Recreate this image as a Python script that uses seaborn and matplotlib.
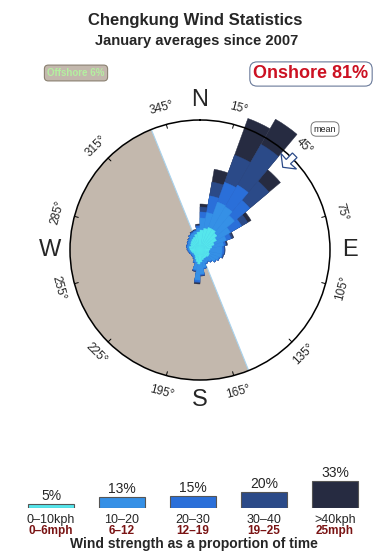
import numpy as np
import pandas as pd
import matplotlib
matplotlib.use("Agg")
import matplotlib.pyplot as plt
import seaborn as sns

# ---------------- data ----------------
dirs = list(range(5, 360, 10))  # bin centres (deg), 10-degree bins
# cumulative radii (circle = 130) for each speed class, per direction
r_0_10 = [20, 22, 24, 24, 22, 19, 15, 12, 10, 9, 9, 10, 10, 9, 9, 9, 10, 12,
          14, 12, 10, 8, 7, 7, 7, 8, 9, 10, 11, 10, 11, 12, 13, 14, 16, 18]
r_10_20 = [32, 38, 51, 50, 45, 35, 28, 24, 22, 22, 22, 20, 18, 15, 13, 14, 18, 24,
           30, 20, 13, 10, 9, 9, 9, 10, 11, 12, 13, 13, 14, 15, 17, 18, 19, 22]
r_20_30 = [38, 55, 72, 75, 65, 48, 33, 26, 24, 24, 23, 21, 19, 16, 14, 15, 19, 25,
           32, 21, 14, 11, 10, 10, 10, 11, 12, 13, 14, 14, 15, 16, 18, 19, 20, 24]
r_30_40 = [43, 69, 101, 122, 90, 55, 35, 27, 25, 25, 24, 21, 19, 16, 14, 15, 19, 26,
           33, 22, 14, 11, 10, 10, 10, 11, 12, 13, 14, 14, 15, 16, 18, 20, 20, 25]
r_40 = [46, 82, 140, 151, 105, 59, 36, 28, 25, 25, 24, 21, 19, 16, 14, 15, 19, 26,
        34, 22, 14, 11, 10, 10, 10, 11, 12, 13, 14, 14, 15, 16, 18, 20, 21, 26]

speed_kph = ["0\u201310kph", "10\u201320", "20\u201330", "30\u201340", ">40kph"]
speed_mph = ["0\u20136mph", "6\u201312", "12\u201319", "19\u201325", "25mph"]
speed_pct = [5, 13, 15, 20, 33]
colors = ["#55e6ec", "#3590e6", "#2a6fd9", "#2b4a88", "#262b41"]

offshore_start, offshore_end = 158, 338
mean_dir = 45
deg_labels = [15, 45, 75, 105, 135, 165, 195, 225, 255, 285, 315, 345]
compass = {"N": 0, "E": 90, "S": 180, "W": 270}

# ---------------- figure ----------------
sns.set_style("white")
plt.rcParams["font.family"] = ["Liberation Sans", "DejaVu Sans"]

W, H = 390, 560
fig = plt.figure(figsize=(W / 100, H / 100), dpi=100)


def fx(x):
    return x / W


def fy(y):
    return 1 - y / H


fig.text(fx(195), fy(20), "Chengkung Wind Statistics", ha="center", va="center",
         fontsize=12, fontweight="bold")
fig.text(fx(197), fy(41), "January averages since 2007", ha="center", va="center",
         fontsize=10.6, fontweight="bold")

# polar rose
R = 130
cx, cy = 200, 250
ax = fig.add_axes([fx(cx - R), fy(cy + R), 2 * R / W, 2 * R / H], projection="polar")
ax.set_theta_zero_location("N")
ax.set_theta_direction(-1)
ax.set_ylim(0, R)
ax.grid(False)
ax.set_xticks([])
ax.set_yticks([])
ax.spines["polar"].set_color("black")
ax.spines["polar"].set_linewidth(1.1)
ax.spines["polar"].set_zorder(4)

# offshore wedge
th = np.radians(np.linspace(offshore_start, offshore_end, 200))
ax.fill(np.concatenate([[0], th, [0]]), np.concatenate([[0], np.full(th.size, R), [0]]),
        color="#c3b8ad", zorder=1, lw=0)
ax.plot(np.radians([offshore_start, offshore_start]), [0, R], color="#a9d3ee", lw=0.8, zorder=1.5)
ax.plot(np.radians([offshore_end, offshore_end]), [0, R], color="#a9d3ee", lw=0.8, zorder=1.5)

layers = [r_0_10, r_10_20, r_20_30, r_30_40, r_40]
theta = np.radians(dirs)
width = np.radians(10)
for i in range(len(layers) - 1, -1, -1):
    ax.bar(theta, layers[i], width=width, bottom=0, color=colors[i], edgecolor=colors[i],
           linewidth=0.3, zorder=3 - 0.1 * i, clip_on=False)

# tick marks and degree labels
for d in deg_labels:
    t = np.radians(d)
    ax.plot([t, t], [R - 4, R], color="black", lw=0.7, zorder=5, clip_on=False)
    if d < 90:
        rot = -d
    elif d > 270:
        rot = 360 - d
    else:
        rot = 180 - d
    ax.text(t, 147, f"{d}\u00b0", ha="center", va="center", fontsize=8.5,
            rotation=rot, rotation_mode="anchor", clip_on=False)

for lab, d in compass.items():
    ax.text(np.radians(d), 150, lab, ha="center", va="center", fontsize=17, clip_on=False)

# mean arrow
arr_t = np.radians(np.array([mean_dir, mean_dir - 5, mean_dir - 1.4, mean_dir - 1.4,
                             mean_dir + 1.4, mean_dir + 1.4, mean_dir + 5, mean_dir]))
arr_r = np.array([117, 126, 125, 134, 134, 125, 126, 117])
ax.fill(arr_t, arr_r, facecolor="white", edgecolor="#2b4a88", lw=0.9, zorder=6, clip_on=False)

fig.text(fx(325), fy(129), "mean", ha="center", va="center", fontsize=6.5,
         bbox=dict(boxstyle="round,pad=0.3,rounding_size=0.6", fc="white", ec="#777777", lw=0.7))

# offshore / onshore boxes
fig.text(fx(76), fy(73), "Offshore 6%", ha="center", va="center", fontsize=7,
         fontweight="bold", color="#b4f0a0",
         bbox=dict(boxstyle="round,pad=0.3,rounding_size=0.4", fc="#c3b8ad", ec="#8a8070", lw=0.8))
fig.text(fx(311), fy(74), "Onshore 81%", ha="center", va="center", fontsize=13,
         fontweight="bold", color="#cc1122",
         bbox=dict(boxstyle="round,pad=0.2,rounding_size=0.4", fc="white", ec="#6a7a9a", lw=0.8))

# legend bars with seaborn
leg = pd.DataFrame({"cls": speed_kph, "pct": speed_pct})
x0, dx = 51, 71.0
bottom_px = 508
scale = 0.81  # px per percent
lax = fig.add_axes([fx(x0 - dx / 2), fy(bottom_px), 5 * dx / W, 40 * scale / H])
sns.barplot(data=leg, x="cls", y="pct", hue="cls", palette=colors, legend=False,
            width=0.64, edgecolor="#555555", linewidth=0.8, ax=lax, saturation=1)
lax.set_ylim(0, 40)
lax.set_xlim(-0.5, 4.5)
lax.axis("off")
for i, p in enumerate(speed_pct):
    lax.text(i, p + 1.5, f"{p}%", ha="center", va="bottom", fontsize=10)
    fig.text(fx(x0 + dx * i), fy(520), speed_kph[i], ha="center", va="center", fontsize=9)
    fig.text(fx(x0 + dx * i), fy(531), speed_mph[i], ha="center", va="center", fontsize=8.5,
             fontweight="bold", color="#7a1414")

fig.text(fx(194), fy(544), "Wind strength as a proportion of time", ha="center", va="center",
         fontsize=10, fontweight="bold")

fig.savefig("out.png", dpi=100)
